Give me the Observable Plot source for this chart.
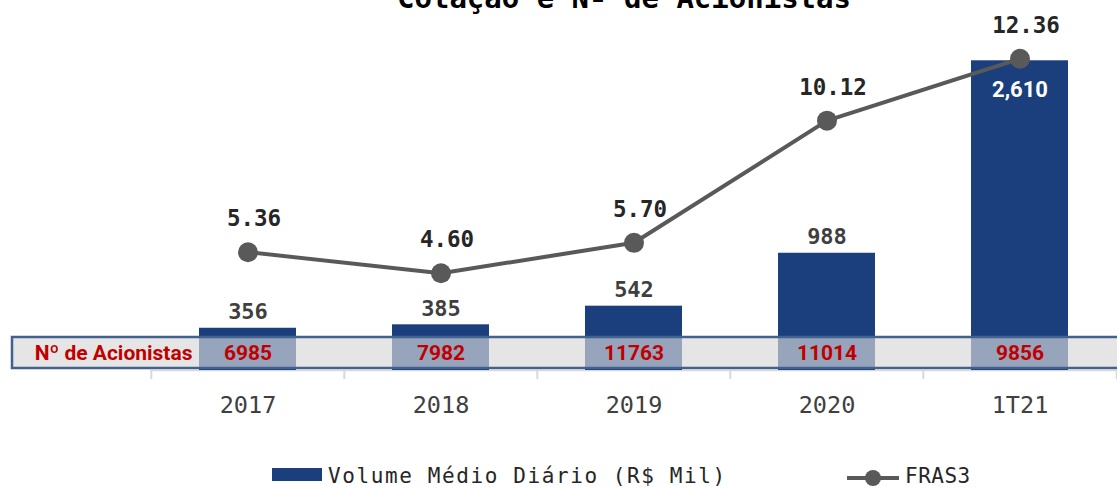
<!DOCTYPE html>
<html><head><meta charset="utf-8">
<script src="https://cdn.jsdelivr.net/npm/d3@7"></script>
<script src="https://cdn.jsdelivr.net/npm/@observablehq/plot@0.6"></script>
<style>
body{margin:0;background:#fff;}
#wrap{position:relative;width:1117px;height:489px;overflow:hidden;background:#fff;}
#chart{position:absolute;left:0;top:0;}
#title{position:absolute;left:624px;top:-16px;transform:translateX(-50%);white-space:nowrap;
  font-family:"DejaVu Sans Mono",monospace;font-weight:bold;font-size:29px;line-height:29px;color:#000;}
.lg{position:absolute;white-space:nowrap;font-family:"DejaVu Sans Mono",monospace;font-size:21px;line-height:24px;color:#262626;letter-spacing:1.6px;}
</style></head><body>
<div id="wrap">
  <div id="chart"></div>
  <div id="title">Cotação e Nº de Acionistas</div>
  <div id="sw1" style="position:absolute;left:272px;top:468px;width:50px;height:13px;background:#1b3e7c;"></div>
  <div class="lg" style="left:328px;top:464px;">Volume Médio Diário (R$ Mil)</div>
  <svg style="position:absolute;left:845px;top:468px;" width="56" height="20">
    <line x1="2" y1="10" x2="54" y2="10" stroke="#595959" stroke-width="4"/>
    <circle cx="28" cy="10" r="8" fill="#595959"/>
  </svg>
  <div class="lg" style="left:905px;top:464px;letter-spacing:0.5px;">FRAS3</div>
</div>
<script>
// ---- data ----
const periods = ["2017", "2018", "2019", "2020", "1T21"];
const volume = [356, 385, 542, 988, 2610];          // Volume Médio Diário (R$ Mil)
const price = [5.36, 4.60, 5.70, 10.12, 12.36];     // FRAS3
const shareholders = [6985, 7982, 11763, 11014, 9856]; // Nº de Acionistas
const rowLabel = "Nº de Acionistas";

// ---- layout ----
const W = 1117, H = 455, mL = 150, mR = 0, mT = 14, mB = 85;
const yMax = 3000;
const priceAxis = [1.08, 13.96]; // secondary axis range matched to the bar axis
const frameH = H - mT - mB;
const k = frameH / yMax;               // px per bar unit
const step = (W - mL - mR) / periods.length;
const toBar = p => (p - priceAxis[0]) / (priceAxis[1] - priceAxis[0]) * yMax;
const tableY1 = 2 / k, tableY2 = 33 / k, tableMid = 17.5 / k;

const data = periods.map((p, i) => ({period: p, volume: volume[i], price: price[i], holders: shareholders[i]}));
const fmt = d3.format(",");

const mono = "DejaVu Sans Mono";
const chart = Plot.plot({
  width: W, height: H,
  marginLeft: mL, marginRight: mR, marginTop: mT, marginBottom: mB,
  style: {fontFamily: mono, fontSize: "23.5px", color: "#404040", background: "transparent", overflow: "visible"},
  x: {type: "band", domain: periods, paddingInner: 0.5, paddingOuter: 0.25, label: null, tickSize: 0, tickPadding: 26},
  y: {domain: [0, yMax], axis: null},
  marks: [
    Plot.rect([0], {y1: tableY1, y2: tableY2, fill: "#e5e5e5", insetLeft: -138, insetRight: -10}),
    Plot.ruleY([0], {stroke: "#d9d9d9", strokeWidth: 1.5}),
    Plot.ruleX(periods, {x: d => d, dx: -step / 2, insetTop: frameH, insetBottom: -9, stroke: "#d9d9d9", strokeWidth: 2}),
    Plot.ruleX(periods.slice(-1), {x: d => d, dx: step / 2, insetTop: frameH, insetBottom: -9, stroke: "#d9d9d9", strokeWidth: 2}),
    Plot.barY(data, {x: "period", y: "volume", fill: "#1b3e7c"}),
    Plot.rect([0], {y1: tableY1, y2: tableY2, fill: "#e5e5e5", fillOpacity: 0.61, stroke: "#41618f", strokeWidth: 2.5, insetLeft: -138, insetRight: -10}),
    Plot.text(data, {x: "period", y: tableMid, text: d => String(d.holders), fill: "#c00000", fontFamily: "Roboto", fontWeight: "bold", fontSize: 21}),
    Plot.text([rowLabel], {frameAnchor: "left", y: tableMid, text: d => d, textAnchor: "end", dx: 42, fill: "#c00000", fontFamily: "Roboto", fontWeight: "bold", fontSize: 21}),
    Plot.text(data.filter(d => d.volume < 2000), {x: "period", y: "volume", text: d => fmt(d.volume), dy: -16, fill: "#3f3f3f", fontFamily: mono, fontWeight: "bold", fontSize: 22}),
    Plot.text(data.filter(d => d.volume >= 2000), {x: "period", y: "volume", text: d => fmt(d.volume), dy: 29, fill: "#ffffff", fontFamily: "Roboto", fontWeight: "bold", fontSize: 22}),
    Plot.line(data, {x: "period", y: d => toBar(d.price), stroke: "#595959", strokeWidth: 4}),
    Plot.dot(data, {x: "period", y: d => toBar(d.price), r: 10, fill: "#595959"}),
    Plot.text(data, {x: "period", y: d => toBar(d.price), text: d => d.price.toFixed(2), dy: -33, dx: 6, fill: "#262626", fontFamily: mono, fontWeight: "bold", fontSize: 22.5})
  ]
});
document.getElementById("chart").appendChild(chart);
</script>
</body></html>
